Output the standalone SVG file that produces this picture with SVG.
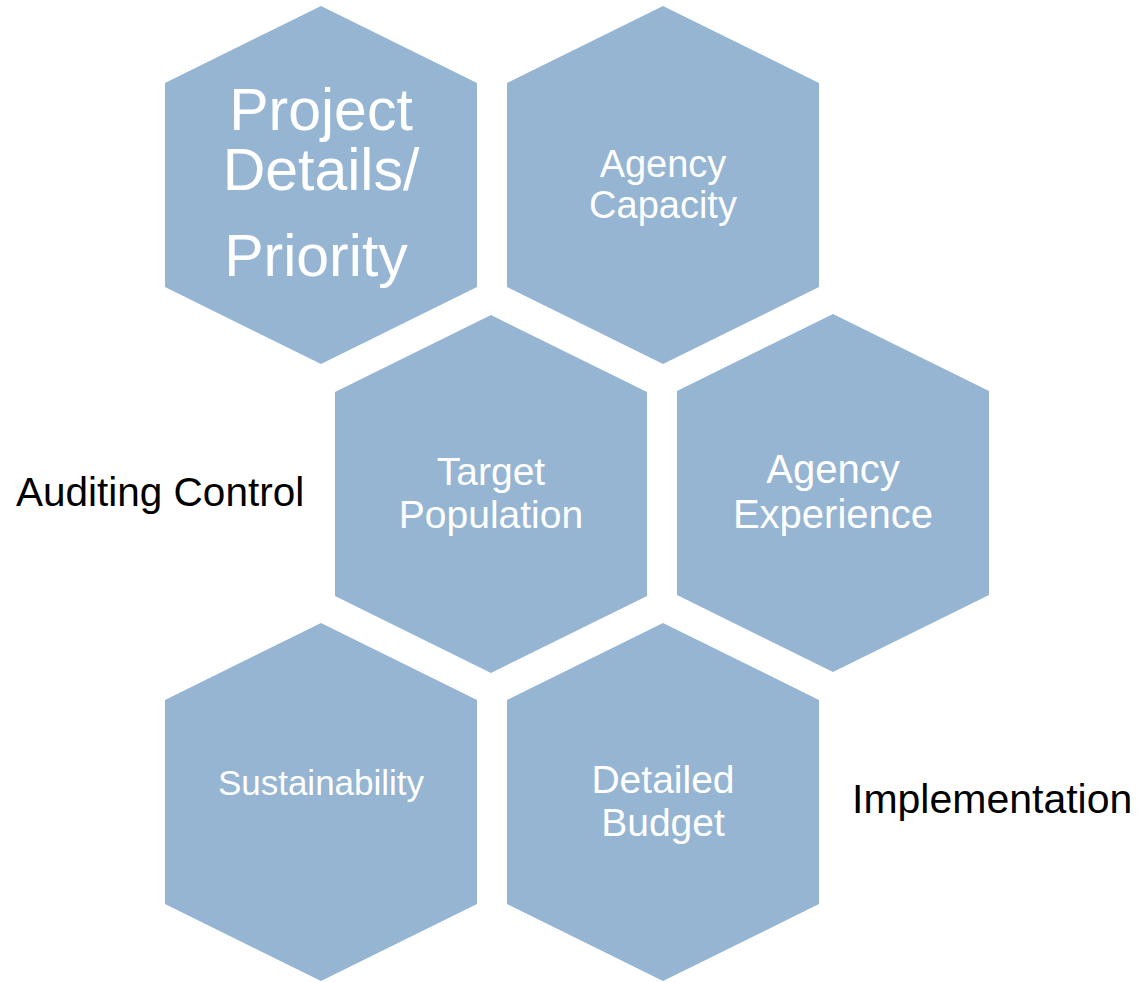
<svg xmlns="http://www.w3.org/2000/svg" width="1145" height="982" viewBox="0 0 1145 982">
<style>
.hex{fill:#95b5d3}
.t{font-family:"Liberation Sans",Arial,sans-serif;fill:#ffffff;text-anchor:middle}
.l{font-family:"Liberation Sans",Arial,sans-serif;fill:#000000}
</style>
<defs>
<polygon id="h" points="0,0 156,77 156,281 0,358 -156,281 -156,77"/>
</defs>
<rect width="1145" height="982" fill="#ffffff"/>
<g id="node-project">
<use href="#h" class="hex" x="321" y="6"/>
<text class="t" x="321" y="130" font-size="59">Project</text>
<text class="t" x="321" y="190" font-size="59">Details/</text>
<text class="t" x="316" y="276" font-size="59">Priority</text>
</g>
<g id="node-capacity">
<use href="#h" class="hex" x="663" y="6"/>
<text class="t" x="663" y="177" font-size="38">Agency</text>
<text class="t" x="663" y="218" font-size="38">Capacity</text>
</g>
<g id="node-target">
<use href="#h" class="hex" x="491" y="315"/>
<text class="t" x="491" y="485" font-size="39">Target</text>
<text class="t" x="491" y="528" font-size="39">Population</text>
</g>
<g id="node-experience">
<use href="#h" class="hex" x="833" y="314"/>
<text class="t" x="833" y="483" font-size="40">Agency</text>
<text class="t" x="833" y="528" font-size="40">Experience</text>
</g>
<g id="node-sustainability">
<use href="#h" class="hex" x="321" y="623"/>
<text class="t" x="321" y="795" font-size="35">Sustainability</text>
</g>
<g id="node-budget">
<use href="#h" class="hex" x="663" y="623"/>
<text class="t" x="663" y="793" font-size="39">Detailed</text>
<text class="t" x="663" y="836" font-size="39">Budget</text>
</g>
<g id="label-auditing">
<text class="l" x="16" y="506" font-size="40.5">Auditing Control</text>
</g>
<g id="label-implementation">
<text class="l" x="852" y="813" font-size="41">Implementation</text>
</g>
<g id="connectors"></g>
</svg>
